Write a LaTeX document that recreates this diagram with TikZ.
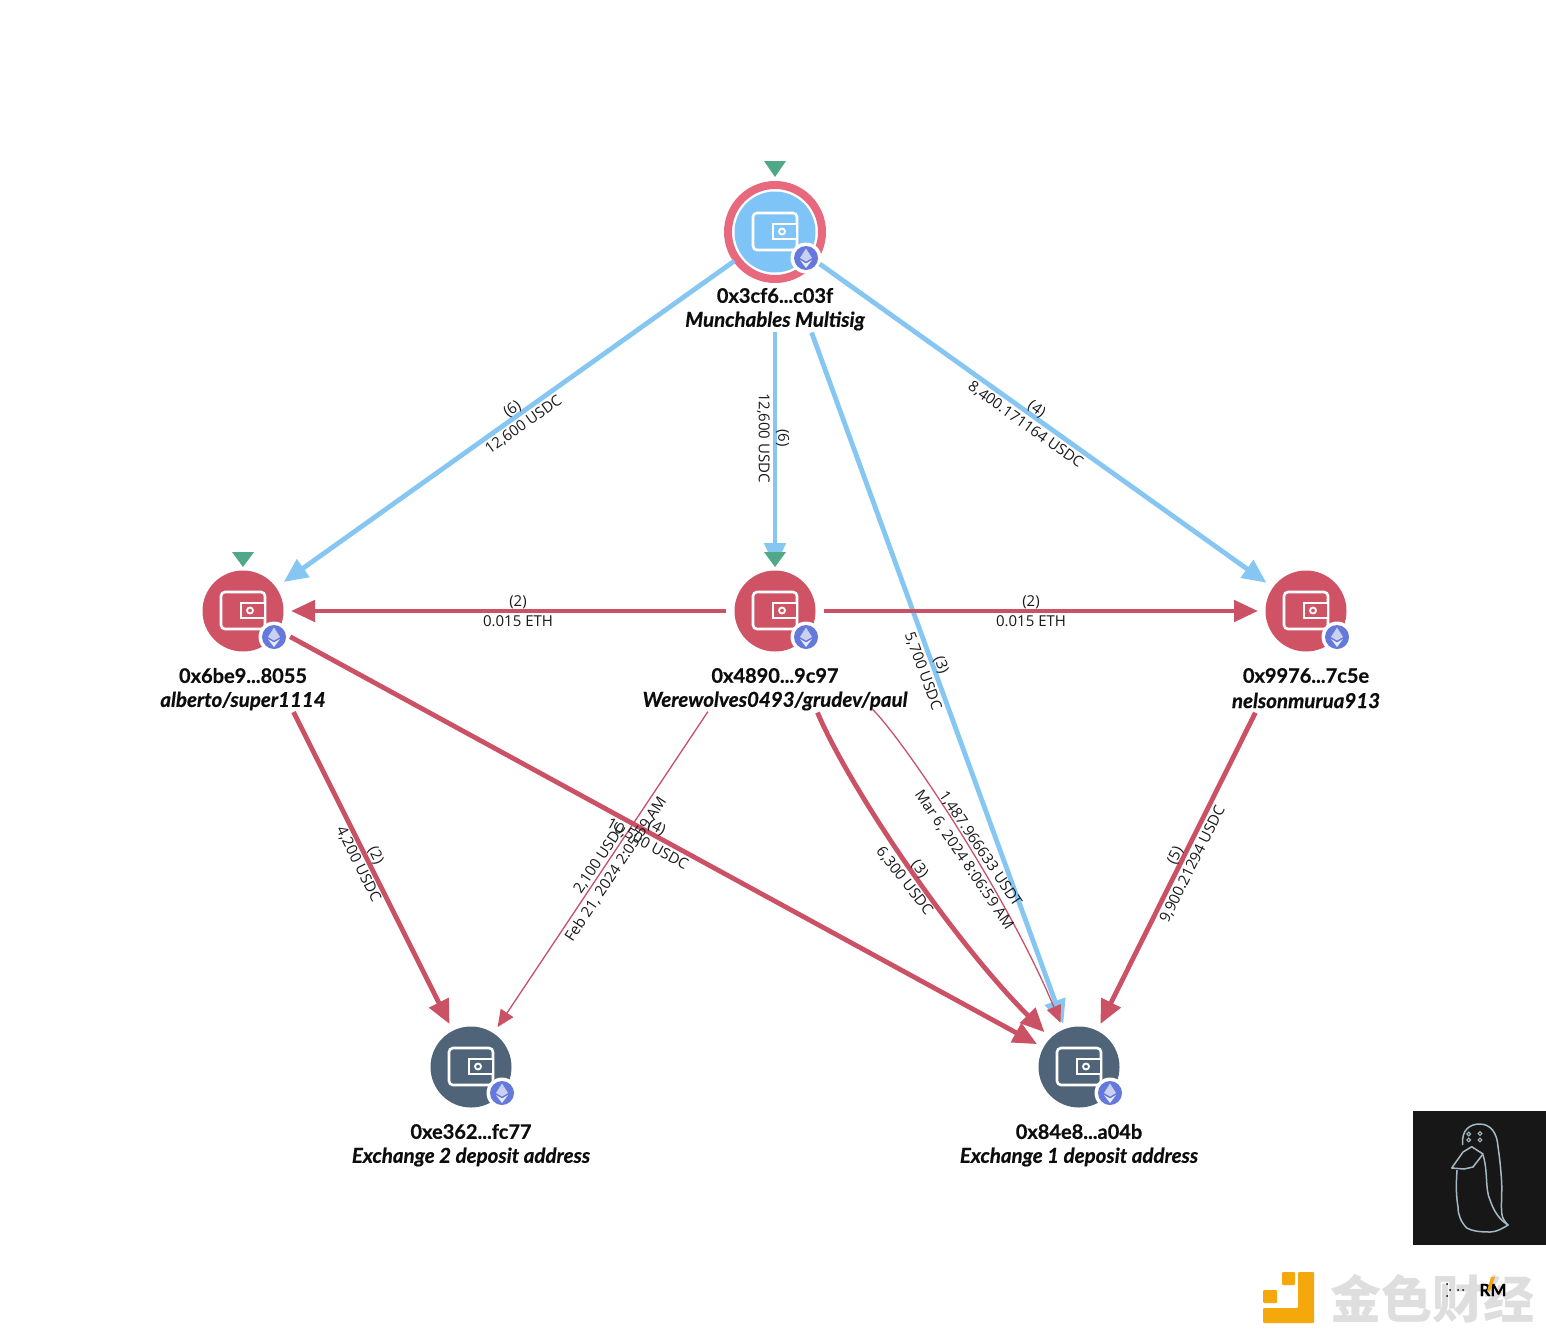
\documentclass[tikz,border=0pt]{standalone}
\usepackage{fontspec}
\setmainfont{Open Sans}
\newfontfamily\namefont[BoldFeatures={FakeBold=0.6},BoldItalicFeatures={FakeBold=0.6}]{Lato}
\newfontfamily\cjkfont{Noto Sans CJK SC}
\usetikzlibrary{arrows.meta}
\definecolor{edgeblue}{HTML}{85C6F2}
\definecolor{edgered}{HTML}{CB5265}
\definecolor{nodeblue}{HTML}{7FC4F7}
\definecolor{nodered}{HTML}{CF5364}
\definecolor{nodedark}{HTML}{4F6478}
\definecolor{ringpink}{HTML}{E8697D}
\definecolor{marker}{HTML}{4FA888}
\definecolor{ethblue}{HTML}{6579DC}
\definecolor{gold}{HTML}{F5A80C}
\tikzset{
  walletdisc/.style={circle,minimum size=81pt,inner sep=0pt,draw=none},
  thickedge/.style={line width=4.8pt,-{Triangle[length=24pt,width=21pt]}},
  thinedge/.style={line width=1.3pt,-{Triangle[length=17pt,width=15pt]}},
  edgelabel/.style={font=\fontsize{15}{19.5}\selectfont,align=center,inner sep=0pt,text=black!90},
  idlabel/.style={font=\namefont\bfseries\fontsize{20}{22}\selectfont,inner sep=0pt,text=black!95},
  aliaslabel/.style={font=\namefont\bfseries\itshape\fontsize{20.5}{22}\selectfont,inner sep=0pt,text=black!95},
  iconline/.style={draw=white,line width=2.6pt},
  downmark/.style={fill=marker,draw=none}
}
\newcommand{\walletnode}[4]{%
  \node[walletdisc,fill=#4] (#1) at (#2,#3) {};
  \begin{scope}[shift={(#2,#3)}]
    \draw[iconline,rounded corners=4pt] (-22,-19) rectangle (22,18);
    \draw[iconline,fill=#4] (-2,-8) rectangle (22,7);
    \draw[draw=white,line width=1.8pt] (7,-0.5) circle (3);
    \fill[white] (31,26) circle (15.5);
    \fill[ethblue] (31,26) circle (12);
    \fill[white,opacity=.65] (31,16.5) -- (37,26) -- (31,29.5) -- (25,26) -- cycle;
    \fill[white,opacity=.85] (25,28) -- (31,31.5) -- (37,28) -- (31,36) -- cycle;
  \end{scope}}
\begin{document}
\begin{tikzpicture}[x=1pt,y=-1pt]
\useasboundingbox (0,0) rectangle (1546,1338);
% nodes
\draw[ringpink,line width=8pt] (775,232) circle (47);
\walletnode{top}{775}{232}{nodeblue}
\walletnode{left}{243}{611}{nodered}
\walletnode{mid}{775}{611}{nodered}
\walletnode{right}{1306}{611}{nodered}
\walletnode{exb}{471}{1067}{nodedark}
\walletnode{exa}{1079}{1067}{nodedark}
% node labels
\node[idlabel] (topid) at (775,295.5) {0x3cf6...c03f};
\node[aliaslabel] (topalias) at (775,321) {Munchables Multisig};
\node[idlabel] (leftid) at (243,675.5) {0x6be9...8055};
\node[aliaslabel] (leftalias) at (243,701) {alberto/super1114};
\node[idlabel] (midid) at (775,675.5) {0x4890...9c97};
\node[aliaslabel] (midalias) at (775,701) {Werewolves0493/grudev/paul};
\node[idlabel] (rightid) at (1306,675.5) {0x9976...7c5e};
\node[aliaslabel] (rightalias) at (1306,700.5) {nelsonmurua913};
\node[idlabel] (exbid) at (471,1131.5) {0xe362...fc77};
\node[aliaslabel] (exbalias) at (471,1157) {Exchange 2 deposit address};
\node[idlabel] (exaid) at (1079,1131.5) {0x84e8...a04b};
\node[aliaslabel] (exaalias) at (1079,1157) {Exchange 1 deposit address};
% connectors
\draw[thickedge,edgeblue,shorten <=50pt,shorten >=50pt] (top.center) -- (left.center);
\draw[thickedge,edgeblue,shorten <=100pt,shorten >=44pt] (top.center) -- (mid.center);
\draw[thickedge,edgeblue,shorten <=55pt,shorten >=48.6pt] (top.center) -- (right.center);
\draw[thickedge,edgeblue,shorten <=107pt,shorten >=46pt] (top.center) -- (exa.center);
\draw[thickedge,edgered,shorten <=49pt,shorten >=48pt] (mid.center) -- (left.center);
\draw[thickedge,edgered,shorten <=49pt,shorten >=48pt] (mid.center) -- (right.center);
\draw[thickedge,edgered,shorten <=53.7pt,shorten >=47.8pt] (left.center) -- (exa.center);
\draw[thickedge,edgered,shorten <=113pt,shorten >=48pt] (left.center) -- (exb.center);
\draw[thinedge,edgered,shorten <=121pt,shorten >=48pt] (mid.center) -- (exb.center);
\draw[thickedge,edgered,shorten <=110pt,shorten >=49pt] (mid.center) .. controls (847,783) and (948,935) .. (exa.center);
\draw[thinedge,edgered,shorten <=138pt,shorten >=48pt] (mid.center) .. controls (906,743) and (1007,895) .. (exa.center);
\draw[thickedge,edgered,shorten <=113.6pt,shorten >=48pt] (right.center) -- (exa.center);
% markers
\fill[downmark] (764,161) -- (786,161) -- (775,177) -- cycle;
\fill[downmark] (232,552) -- (254,552) -- (243,567) -- cycle;
\fill[downmark] (764,552) -- (786,552) -- (775,567) -- cycle;
% connector labels
\node[edgelabel,rotate=35.4] (la) at (518,417) {(6)\\12,600 USDC};
\node[edgelabel,rotate=-90] (lb) at (773,438) {(6)\\12,600 USDC};
\node[edgelabel,rotate=-35.4] (lc) at (1031,417) {(4)\\8,400.171164 USDC};
\node[edgelabel,rotate=-70] (ld) at (932,668) {(3)\\5,700 USDC};
\node[edgelabel] (le) at (518,611) {(2)\\0.015 ETH};
\node[edgelabel] (lf) at (1031,611) {(2)\\0.015 ETH};
\node[edgelabel,rotate=-28.6] (lg) at (652,836) {(4)\\10,500 USDC};
\node[edgelabel,rotate=-63.4] (lh) at (367,860) {(2)\\4,200 USDC};
\node[edgelabel,rotate=56.3] (li) at (608,864) {2,100 USDC\\Feb 21, 2024 2:05:59 AM};
\node[edgelabel,rotate=-52] (lj) at (912,875) {(3)\\6,300 USDC};
\node[edgelabel,rotate=-56] (lk) at (972,854.5) {1,487.966633 USDT\\Mar 6, 2024 8:06:59 AM};
\node[edgelabel,rotate=63.5] (ll) at (1184,860) {(5)\\9,900.21294 USDC};
% penguin box
\fill[black!91] (1413,1111) rectangle (1546,1245);
\begin{scope}[draw=cyan!25!gray!70!white,line width=1.5pt]
\draw (1462.7,1145) .. controls (1461,1130) and (1470,1124) .. (1479.3,1124) .. controls (1491,1124) and (1497,1133) .. (1498,1146.7) .. controls (1500,1160) and (1501,1172) .. (1501.7,1183) .. controls (1502,1195) and (1501,1205) .. (1501.7,1213) .. controls (1502,1218) and (1505,1222) .. (1508,1225) .. controls (1503,1228) and (1497,1232) .. (1490,1232) .. controls (1480,1232) and (1472,1231) .. (1466.7,1228) .. controls (1461,1222) and (1458,1215) .. (1458,1207) .. controls (1456,1195) and (1456,1185) .. (1457,1170);
\draw[line join=round] (1471.7,1146.7) -- (1483,1154) -- (1473,1167) -- (1464,1169) -- (1451.7,1168) -- (1463,1152) -- cycle;
\draw (1483,1155) .. controls (1488,1170) and (1485,1190) .. (1490,1200) .. controls (1494,1212) and (1500,1220) .. (1508,1225);
\foreach \ex/\ey in {1468.7/1134,1480/1133.5,1468.7/1140,1480/1140}{\draw[line width=1pt] (\ex,\ey) circle (1.9);}
\end{scope}
% watermark
\fill[gold,rounded corners=1pt] (1282,1272) rectangle (1295,1285);
\fill[gold,rounded corners=1pt] (1263,1290) rectangle (1277,1303);
\fill[gold,rounded corners=1pt] (1298,1272) -- (1314,1272) -- (1314,1323) -- (1263,1323) -- (1263,1308) -- (1298,1308) -- cycle;
\node[font=\cjkfont\bfseries\fontsize{51}{51}\selectfont,inner sep=0pt,text=black!13] (mark) at (1432,1299) {金色财经};
\node[font=\namefont\bfseries\fontsize{17}{17}\selectfont,inner sep=0pt,text=black] (trm) at (1493,1290) {RM};
\fill[gold] (1491,1277) -- (1495,1277) -- (1490,1291) -- (1487,1291) -- cycle;
\foreach \ex/\ey in {1447/1284,1450/1290,1447/1296,1458/1290,1463/1290}{\fill[black] (\ex,\ey) circle (1);}
\end{tikzpicture}
\end{document}
